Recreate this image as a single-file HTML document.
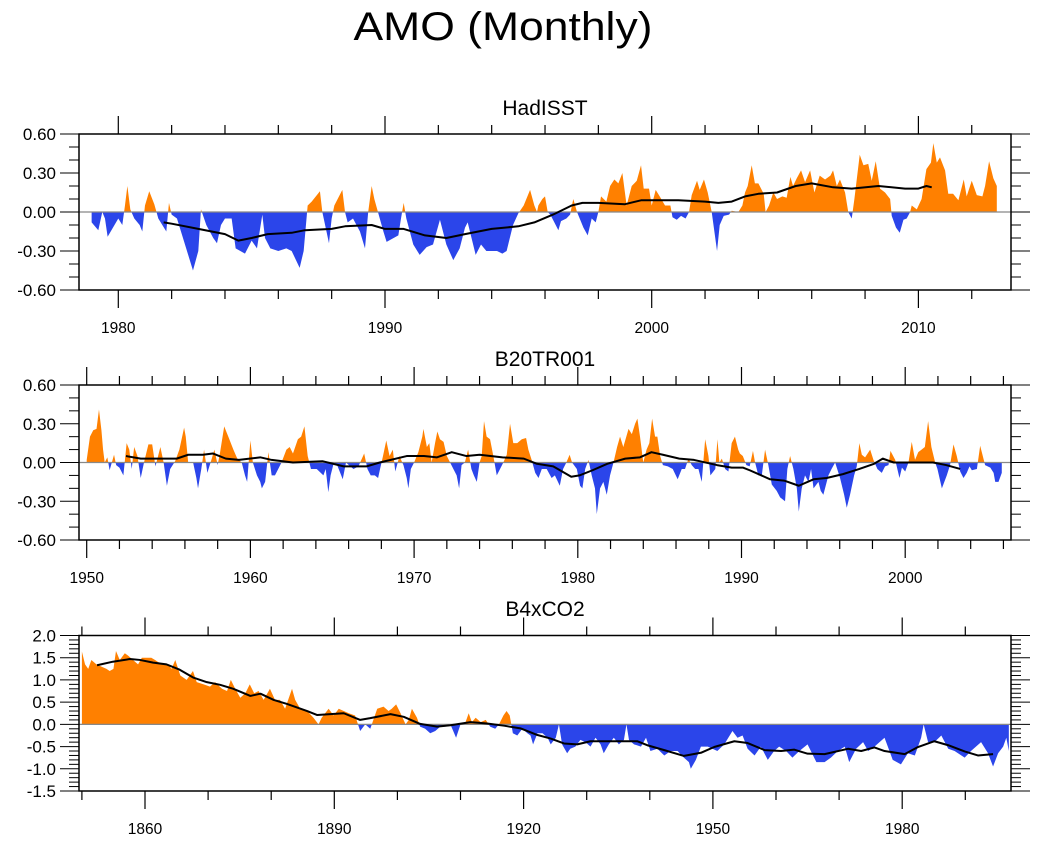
<!DOCTYPE html>
<html><head><meta charset="utf-8"><style>
html,body{margin:0;padding:0;background:#fff;}
svg{display:block;font-family:"Liberation Sans",Arial,sans-serif;}
</style></head>
<body>
<svg id="chart" width="1038" height="844" viewBox="0 0 1038 844" xmlns="http://www.w3.org/2000/svg">
<text x="503" y="40" font-size="40" text-anchor="middle" textLength="299" lengthAdjust="spacingAndGlyphs">AMO (Monthly)</text>
</svg>
<script>
// ---------- HadISST ----------
const hadYears = [1979.0,1979.25,1979.4,1979.5,1979.6,1979.8,1980.0,1980.15,1980.25,1980.34,1980.45,1980.6,1980.8,1980.9,1981.0,1981.16,1981.35,1981.5,1981.8,1981.9,1982.0,1982.2,1982.5,1982.8,1983.0,1983.1,1983.3,1983.56,1983.7,1983.85,1984.0,1984.25,1984.4,1984.75,1985.0,1985.2,1985.4,1985.5,1985.7,1986.0,1986.3,1986.5,1986.8,1986.95,1987.1,1987.25,1987.56,1987.65,1987.9,1988.0,1988.1,1988.4,1988.5,1988.6,1988.8,1989.06,1989.25,1989.37,1989.5,1989.6,1989.94,1990.06,1990.5,1990.6,1990.7,1990.8,1991.06,1991.3,1991.56,1991.8,1992.06,1992.3,1992.56,1992.8,1993.0,1993.1,1993.4,1993.6,1993.8,1994.2,1994.4,1994.56,1994.8,1995.0,1995.2,1995.44,1995.6,1995.7,1995.75,1995.9,1996.0,1996.1,1996.2,1996.4,1996.5,1996.6,1996.8,1996.94,1997.06,1997.2,1997.3,1997.44,1997.6,1997.75,1997.9,1998.0,1998.1,1998.3,1998.44,1998.6,1998.75,1998.9,1999.06,1999.25,1999.44,1999.6,1999.7,1999.9,2000.0,2000.15,2000.3,2000.5,2000.7,2000.78,2000.94,2001.1,2001.27,2001.4,2001.5,2001.7,2001.8,2001.96,2002.1,2002.25,2002.35,2002.45,2002.55,2002.7,2002.9,2003.0,2003.25,2003.4,2003.5,2003.6,2003.75,2003.87,2004.0,2004.2,2004.27,2004.4,2004.56,2004.7,2004.9,2005.06,2005.2,2005.3,2005.44,2005.6,2005.75,2005.94,2006.1,2006.3,2006.5,2006.7,2006.8,2006.94,2007.06,2007.25,2007.37,2007.5,2007.6,2007.8,2007.94,2008.12,2008.25,2008.4,2008.56,2008.75,2008.94,2009.0,2009.16,2009.3,2009.44,2009.56,2009.69,2009.75,2009.94,2010.12,2010.3,2010.47,2010.56,2010.69,2010.81,2011.0,2011.12,2011.3,2011.5,2011.7,2011.81,2012.0,2012.19,2012.4,2012.5,2012.65,2012.81,2012.94];
const hadVals = [-0.08,-0.14,0.0,-0.05,-0.19,-0.12,-0.05,-0.1,0.05,0.2,0.02,-0.05,-0.1,-0.15,0.05,0.16,0.06,-0.05,-0.15,0.07,-0.02,-0.05,-0.25,-0.45,-0.3,0.02,-0.1,-0.2,-0.24,-0.1,-0.05,-0.05,-0.28,-0.32,-0.22,-0.28,-0.02,-0.2,-0.28,-0.3,-0.28,-0.3,-0.43,-0.3,0.05,0.08,0.16,0.0,-0.24,-0.05,0.05,0.17,0.0,-0.08,-0.05,-0.15,-0.28,0.0,0.2,0.1,-0.15,-0.23,-0.18,-0.05,0.07,-0.05,-0.25,-0.33,-0.27,-0.25,-0.06,-0.25,-0.37,-0.28,-0.12,-0.08,-0.33,-0.25,-0.3,-0.3,-0.32,-0.3,-0.1,-0.01,0.05,0.17,0.05,0.0,0.05,0.1,0.12,0.0,-0.02,-0.1,-0.14,-0.07,-0.05,-0.02,0.1,0.0,-0.05,-0.12,-0.18,-0.05,-0.08,0.0,0.12,0.08,0.2,0.25,0.22,0.3,0.05,0.2,0.24,0.36,0.18,0.18,0.05,0.17,0.12,0.05,0.05,-0.04,-0.06,-0.03,-0.05,0.0,0.13,0.24,0.17,0.25,0.15,0.0,-0.15,-0.3,-0.1,-0.03,-0.02,0.01,0.0,0.05,0.15,0.2,0.36,0.22,0.22,0.14,0.0,0.05,0.15,0.1,0.12,0.11,0.27,0.2,0.26,0.32,0.23,0.32,0.15,0.28,0.25,0.28,0.32,0.2,0.25,0.15,0.0,-0.05,0.1,0.44,0.36,0.37,0.24,0.39,0.18,0.15,0.1,-0.03,-0.12,-0.16,-0.06,-0.05,0.0,0.05,0.02,0.1,0.33,0.38,0.53,0.38,0.42,0.32,0.14,0.14,0.09,0.25,0.12,0.24,0.13,0.12,0.2,0.39,0.26,0.2];
const hadSmYears = [1981.7,1982,1983,1984,1984.5,1985,1985.6,1986.5,1987,1988,1988.5,1989.5,1990,1990.7,1991.5,1992.3,1993,1994,1995,1995.6,1996.3,1997,1997.4,1998,1999,1999.6,2000,2001,2002,2002.5,2003,2003.5,2004,2004.7,2005.4,2006,2006.8,2007.5,2008.5,2009.5,2010,2010.3,2010.5];
const hadSmVals = [-0.08,-0.09,-0.13,-0.17,-0.22,-0.2,-0.17,-0.16,-0.14,-0.13,-0.11,-0.1,-0.13,-0.13,-0.18,-0.2,-0.17,-0.13,-0.11,-0.08,-0.02,0.05,0.07,0.07,0.06,0.09,0.09,0.09,0.08,0.07,0.08,0.12,0.14,0.15,0.2,0.22,0.19,0.18,0.2,0.18,0.18,0.2,0.19];

// ---------- B20TR001 ----------
const b20Years = [1950.0,1950.2,1950.4,1950.6,1950.75,1950.9,1951.0,1951.1,1951.26,1951.4,1951.67,1951.8,1952.0,1952.24,1952.44,1952.6,1952.75,1952.9,1953.1,1953.3,1953.5,1953.77,1954.0,1954.2,1954.5,1954.7,1954.9,1955.1,1955.4,1955.66,1955.95,1956.05,1956.2,1956.5,1956.7,1956.8,1957.0,1957.17,1957.37,1957.64,1957.8,1958.0,1958.15,1958.4,1958.65,1958.96,1959.2,1959.47,1959.67,1959.8,1960.0,1960.15,1960.4,1960.6,1960.7,1960.9,1961.1,1961.3,1961.5,1961.7,1961.9,1962.2,1962.4,1962.6,1962.9,1963.1,1963.3,1963.5,1963.7,1964.05,1964.46,1964.6,1964.76,1964.9,1965.1,1965.3,1965.64,1965.84,1966.1,1966.3,1966.6,1966.95,1967.15,1967.35,1967.6,1967.8,1967.92,1968.1,1968.3,1968.5,1968.7,1968.85,1969.0,1969.1,1969.35,1969.55,1969.65,1969.8,1970.0,1970.26,1970.5,1970.57,1970.78,1970.93,1971.07,1971.28,1971.42,1971.58,1971.8,1972.0,1972.2,1972.4,1972.6,1972.75,1972.9,1973.1,1973.3,1973.5,1973.65,1973.83,1974.0,1974.13,1974.27,1974.43,1974.64,1974.84,1975.05,1975.25,1975.45,1975.66,1975.86,1976.06,1976.3,1976.58,1976.84,1976.98,1977.18,1977.4,1977.6,1977.8,1978.1,1978.4,1978.6,1978.9,1979.1,1979.3,1979.5,1979.65,1979.94,1980.14,1980.28,1980.45,1980.65,1980.85,1981.05,1981.16,1981.36,1981.56,1981.77,1981.97,1982.18,1982.4,1982.58,1982.78,1983.1,1983.3,1983.5,1983.64,1983.8,1984.0,1984.2,1984.37,1984.54,1984.72,1984.86,1985.03,1985.2,1985.5,1985.8,1986.1,1986.35,1986.55,1986.76,1986.96,1987.17,1987.37,1987.57,1987.78,1987.98,1988.1,1988.4,1988.53,1988.65,1988.8,1989.0,1989.2,1989.4,1989.6,1989.8,1989.9,1990.08,1990.3,1990.5,1990.7,1990.83,1991.03,1991.24,1991.44,1991.64,1991.85,1992.15,1992.36,1992.66,1992.8,1992.97,1993.17,1993.38,1993.5,1993.68,1993.88,1994.09,1994.25,1994.4,1994.7,1994.84,1995.0,1995.31,1995.5,1995.72,1996.02,1996.27,1996.43,1996.63,1996.88,1997.04,1997.2,1997.35,1997.55,1997.86,1998.06,1998.3,1998.57,1998.77,1998.98,1999.1,1999.39,1999.65,1999.8,2000.0,2000.2,2000.4,2000.6,2000.8,2001.0,2001.2,2001.4,2001.6,2001.83,2001.97,2002.24,2002.54,2002.74,2002.95,2003.15,2003.36,2003.56,2003.76,2003.93,2004.07,2004.38,2004.58,2004.88,2005.2,2005.4,2005.5,2005.7,2005.9];
const b20Vals = [0.02,0.2,0.25,0.26,0.41,0.25,0.1,0.0,0.04,-0.06,0.06,-0.02,-0.04,-0.1,0.15,0.1,-0.05,0.12,0.05,-0.12,0.0,0.14,0.14,-0.03,0.12,0.0,-0.18,-0.05,0.01,0.1,0.27,0.2,0.0,0.0,-0.12,-0.2,-0.05,0.1,-0.08,0.03,0.1,-0.02,0.08,0.28,0.2,0.1,0.03,0.0,-0.1,-0.15,0.17,0.0,-0.1,-0.15,-0.2,-0.15,0.08,-0.1,-0.1,-0.05,0.0,0.1,0.12,0.07,0.18,0.2,0.28,0.05,-0.05,-0.05,-0.1,-0.05,-0.23,-0.1,0.0,-0.02,-0.13,0.0,-0.03,-0.05,-0.03,0.07,-0.05,-0.1,-0.1,-0.12,-0.05,0.05,0.17,0.05,0.1,-0.07,0.0,0.05,-0.02,-0.12,-0.2,-0.05,0.0,0.08,0.2,0.26,0.12,0.15,0.0,0.15,0.24,0.18,0.16,0.05,0.0,-0.05,-0.1,-0.2,-0.02,0.0,0.1,-0.05,-0.1,-0.15,0.0,0.05,0.32,0.2,0.18,0.05,-0.1,-0.05,0.0,0.06,0.3,0.15,0.15,0.18,0.19,0.1,0.02,-0.08,-0.12,-0.05,-0.05,-0.12,-0.1,-0.18,-0.05,0.0,0.06,0.0,-0.05,-0.18,-0.2,-0.05,0.02,-0.1,-0.2,-0.4,-0.2,-0.15,-0.25,-0.1,0.0,0.12,0.2,0.12,0.26,0.22,0.3,0.34,0.2,0.0,0.1,0.15,0.34,0.2,0.2,0.05,-0.02,-0.03,-0.05,-0.13,-0.05,-0.05,0.03,-0.02,-0.05,-0.05,-0.15,0.18,0.05,-0.1,-0.05,0.18,0.0,0.03,-0.05,-0.07,0.15,0.2,0.1,0.07,0.05,-0.02,-0.03,0.09,0.0,-0.1,-0.1,0.1,-0.02,-0.17,-0.22,-0.27,-0.3,-0.05,0.05,-0.05,-0.2,-0.38,-0.2,-0.1,-0.15,-0.05,-0.2,-0.15,-0.22,-0.25,-0.1,-0.05,0.0,-0.12,-0.25,-0.35,-0.25,-0.1,-0.03,0.15,0.06,0.04,0.1,0.02,-0.05,-0.08,-0.03,-0.02,0.09,0.02,-0.12,-0.04,-0.07,0.0,0.16,0.02,0.08,0.1,0.12,0.32,0.12,0.0,-0.05,-0.2,-0.1,-0.02,0.14,0.05,-0.07,-0.12,-0.08,-0.03,-0.06,-0.05,0.13,-0.02,-0.04,-0.08,-0.15,-0.15,-0.08,-0.05,0.04,-0.03,-0.03];
const b20SmYears = [1952.4,1953.3,1954.5,1955.5,1956.2,1957.1,1957.7,1958.5,1959.3,1960.6,1961.3,1962.6,1964.4,1965.7,1967.1,1967.9,1969.55,1970.6,1971.4,1972.3,1973.2,1974.0,1975.4,1976.7,1977.5,1978.5,1979.6,1980.1,1980.9,1981.8,1982.9,1983.8,1984.5,1985.2,1986.2,1987.1,1988.5,1989.4,1990.1,1990.5,1991.75,1992.6,1993.5,1994.4,1995.2,1996.2,1997.2,1998.1,1998.63,1999.3,2000.7,2001.7,2002.5,2003.36];
const b20SmVals = [0.05,0.03,0.03,0.03,0.06,0.06,0.07,0.03,0.02,0.04,0.02,0.0,0.01,-0.03,-0.03,0.0,0.05,0.05,0.04,0.08,0.05,0.06,0.04,0.03,-0.01,-0.03,-0.11,-0.1,-0.06,-0.01,0.03,0.04,0.08,0.06,0.03,0.02,-0.02,-0.04,-0.04,-0.06,-0.13,-0.14,-0.18,-0.13,-0.12,-0.09,-0.05,-0.01,0.03,0.0,0.0,0.0,-0.02,-0.05];

// ---------- B4xCO2 ----------
const b4Years = [1850,1850.5,1851,1851.5,1852.3,1853.1,1853.9,1854.4,1855,1855.4,1856,1856.8,1857.3,1858.1,1858.9,1859.5,1860.3,1861,1861.6,1862.1,1862.9,1863.7,1864.2,1864.8,1865.6,1866.6,1867.6,1868.2,1869.3,1870.3,1871.1,1872.2,1873,1873.6,1874.3,1875.1,1875.9,1876.6,1877.3,1878,1878.8,1879.8,1880.6,1881.4,1882.2,1883.3,1883.8,1884.6,1885.7,1886.7,1887.5,1888,1889.1,1889.9,1890.7,1891.5,1892.3,1893.3,1894.1,1894.9,1895.7,1896.8,1897.8,1898.6,1899.1,1899.8,1900.5,1901.3,1901.8,1902.3,1903.1,1903.6,1904.4,1905.2,1906,1906.8,1907.6,1908.4,1909.3,1910,1910.8,1911.3,1911.8,1912.4,1913.2,1914,1914.7,1915.5,1916.1,1916.8,1917.3,1917.8,1918.3,1919,1919.8,1920.6,1921.1,1921.5,1922.2,1923,1923.8,1924.3,1925.1,1925.6,1926.1,1926.9,1927.4,1928.2,1929,1929.8,1930.6,1931.4,1932.2,1932.7,1933.5,1934.3,1935.1,1935.9,1936.3,1936.7,1937.5,1938.6,1939.4,1940.1,1941.2,1942.3,1943.3,1944.4,1945.4,1946.2,1946.5,1947.3,1948.1,1949.2,1950.7,1951.8,1953.1,1953.9,1954.7,1955.5,1956.6,1957.6,1958.7,1959.7,1960.5,1961.6,1962.6,1963.7,1965,1966.4,1967.7,1968.7,1969.8,1970.9,1971.6,1972.7,1973.8,1974.6,1975.6,1977.2,1978.5,1979.8,1980.9,1982,1983,1983.4,1984.1,1985.1,1986.2,1987.3,1988.3,1989.9,1990.9,1992.5,1993.6,1994.4,1995.2,1996,1996.5,1996.9];
const b4Vals = [1.64,1.35,1.25,1.45,1.35,1.3,1.25,1.2,1.25,1.65,1.45,1.6,1.55,1.45,1.35,1.5,1.5,1.5,1.45,1.4,1.35,1.35,1.25,1.45,1.1,1.0,1.2,0.95,0.9,0.85,0.95,0.8,0.75,1.0,0.8,0.6,0.7,0.9,0.7,0.75,0.55,0.8,0.55,0.55,0.35,0.8,0.55,0.35,0.3,0.15,0.0,0.15,0.35,0.2,0.35,0.3,0.25,0.2,-0.15,0.0,-0.1,0.35,0.4,0.3,0.35,0.45,0.25,0.0,0.1,0.35,0.15,-0.05,-0.1,-0.2,-0.15,-0.05,-0.05,0.0,-0.3,0.0,0.05,0.25,0.05,0.15,0.05,0.1,-0.05,-0.1,0.0,0.2,0.3,0.2,-0.2,-0.25,-0.1,-0.2,-0.25,-0.45,-0.2,-0.2,-0.3,-0.45,-0.3,0.0,-0.45,-0.65,-0.55,-0.5,-0.35,-0.4,-0.5,-0.3,-0.45,-0.65,-0.45,-0.3,-0.45,-0.35,0.0,-0.35,-0.45,-0.5,-0.3,-0.6,-0.55,-0.7,-0.6,-0.6,-0.75,-0.85,-1.0,-0.8,-0.5,-0.5,-0.6,-0.45,-0.15,-0.3,-0.25,-0.55,-0.7,-0.5,-0.8,-0.6,-0.5,-0.6,-0.75,-0.6,-0.45,-0.85,-0.85,-0.75,-0.6,-0.5,-0.85,-0.55,-0.4,-0.6,-0.5,-0.3,-0.8,-0.9,-0.65,-0.7,-0.3,0.0,-0.4,-0.4,-0.25,-0.55,-0.6,-0.75,-0.6,-0.4,-0.65,-0.95,-0.65,-0.5,-0.3,-0.6];
const b4SmYears = [1852.4,1854.9,1857.6,1859.2,1861.3,1863.4,1865.5,1867.7,1869.8,1871.9,1874,1876.7,1878.3,1880.4,1882.5,1885.7,1887.3,1889.4,1891.5,1894.1,1895.7,1898.9,1901,1903.6,1906.3,1908.4,1911.6,1914.2,1916.9,1919.5,1922.2,1924.3,1926.4,1928.5,1930.6,1932.7,1935.4,1938,1939.6,1942.3,1945.4,1948.1,1950.2,1953.4,1955.5,1958.2,1960.8,1962.9,1965,1967.7,1971.4,1973.5,1975.6,1977.2,1980.4,1982.5,1985.1,1987.3,1989.9,1992,1994.4];
const b4SmVals = [1.33,1.41,1.47,1.45,1.39,1.35,1.23,1.05,0.95,0.89,0.8,0.64,0.69,0.55,0.46,0.3,0.21,0.23,0.25,0.1,0.14,0.23,0.17,0.01,-0.05,-0.02,0.05,0.02,-0.03,-0.09,-0.24,-0.32,-0.43,-0.45,-0.38,-0.38,-0.38,-0.38,-0.47,-0.58,-0.71,-0.64,-0.51,-0.38,-0.42,-0.58,-0.6,-0.57,-0.66,-0.67,-0.55,-0.6,-0.52,-0.6,-0.67,-0.51,-0.38,-0.47,-0.61,-0.7,-0.67];

// ---------- tick labels ----------
const hadXTicks = [1980,1990,2000,2010];
const b20XTicks = [1950,1960,1970,1980,1990,2000];
const b4XTicks = [1860,1890,1920,1950,1980];
const yTicks12 = [-0.6,-0.3,0.0,0.3,0.6];
const yTicks3 = [-1.5,-1.0,-0.5,0.0,0.5,1.0,1.5,2.0];

const NS = "http://www.w3.org/2000/svg";
const svg = document.getElementById('chart');
function mk(tag, attrs, parent){
  const e = document.createElementNS(NS, tag);
  for (const k in attrs) e.setAttribute(k, attrs[k]);
  (parent||svg).appendChild(e);
  return e;
}

const panels = [
  {name:'hadisst', title:'HadISST', titleY:115, left:79, right:1011, top:134, bottom:290,
   ymin:-0.6, ymax:0.6, x0:1980, px0:118.3, pxPerYr:26.67, years:hadYears, vals:hadVals,
   smY:hadSmYears, smV:hadSmVals, xt:hadXTicks, minorStep:2, yt:yTicks12, yMinor:0.1, dec:2, xMin:1978, xMax:2014},
  {name:'b20tr001', title:'B20TR001', titleY:366, left:79, right:1011, top:385, bottom:540,
   ymin:-0.6, ymax:0.6, x0:1950, px0:86.7, pxPerYr:16.37, years:b20Years, vals:b20Vals,
   smY:b20SmYears, smV:b20SmVals, xt:b20XTicks, minorStep:2, yt:yTicks12, yMinor:0.1, dec:2, xMin:1949, xMax:2007},
  {name:'b4xco2', title:'B4xCO2', titleY:616, left:79, right:1011, top:635.5, bottom:791,
   ymin:-1.5, ymax:2.0, x0:1860, px0:145, pxPerYr:6.31, years:b4Years, vals:b4Vals,
   smY:b4SmYears, smV:b4SmVals, xt:b4XTicks, minorStep:10, yt:yTicks3, yMinor:0.1, dec:1, xMin:1840, xMax:2000}
];

panels.forEach((p, idx) => {
  const g = mk('g', {});
  
  
  const X = yr => p.px0 + (yr - p.x0) * p.pxPerYr;
  const Y = v => p.bottom - (v - p.ymin) / (p.ymax - p.ymin) * (p.bottom - p.top);
  const zy = Y(0);

  const t = mk('text', {x:545, y:p.titleY, 'font-size':21, 'text-anchor':'middle'}, g);
  
  
  t.textContent = p.title;

  const cid = 'clip' + idx;
  const defs = mk('defs', {}, g);
  const cu = mk('clipPath', {id: cid + 'u'}, defs);
  mk('rect', {x:p.left, y:p.top, width:p.right - p.left, height:zy - p.top}, cu);
  const cd = mk('clipPath', {id: cid + 'd'}, defs);
  mk('rect', {x:p.left, y:zy, width:p.right - p.left, height:p.bottom - zy}, cd);

  let pts = X(p.years[0]).toFixed(2) + ',' + zy.toFixed(2) + ' ';
  for (let i = 0; i < p.years.length; i++) pts += X(p.years[i]).toFixed(2) + ',' + Y(p.vals[i]).toFixed(2) + ' ';
  pts += X(p.years[p.years.length - 1]).toFixed(2) + ',' + zy.toFixed(2);
  const pos = mk('polygon', {points:pts, fill:'#ff8000', 'clip-path':'url(#' + cid + 'u)'}, g);
  
  
  const neg = mk('polygon', {points:pts, fill:'#2b45ea', 'clip-path':'url(#' + cid + 'd)'}, g);
  
  

  const zl = mk('line', {x1:p.left, x2:p.right, y1:zy, y2:zy, stroke:'#888', 'stroke-width':1.2}, g);
  
  

  let sp = '';
  for (let i = 0; i < p.smY.length; i++) sp += X(p.smY[i]).toFixed(2) + ',' + Y(p.smV[i]).toFixed(2) + ' ';
  const sl = mk('polyline', {points:sp, fill:'none', stroke:'#000', 'stroke-width':2, 'stroke-linejoin':'round'}, g);
  
  

  const fr = mk('rect', {x:p.left, y:p.top, width:p.right - p.left, height:p.bottom - p.top, fill:'none', stroke:'#000', 'stroke-width':1.5}, g);
  
  

  for (let yr = Math.ceil(p.xMin); yr <= p.xMax; yr++) {
    const x = X(yr);
    if (x < p.left - 0.5 || x > p.right + 0.5) continue;
    const major = p.xt.includes(yr);
    if (!major && yr % p.minorStep !== 0) continue;
    const len = major ? 18 : 9;
    mk('line', {x1:x, x2:x, y1:p.top, y2:p.top - len, stroke:'#000', 'stroke-width':1.2}, g);
    mk('line', {x1:x, x2:x, y1:p.bottom, y2:p.bottom + len, stroke:'#000', 'stroke-width':1.2}, g);
  }
  p.xt.forEach(yr => {
    const lt = mk('text', {x:X(yr), y:p.bottom + 43, 'font-size':15.5, 'text-anchor':'middle'}, g);
    
    
    lt.textContent = String(yr);
  });
  const nMinor = Math.round((p.ymax - p.ymin) / p.yMinor);
  for (let i = 0; i <= nMinor; i++) {
    const v = p.ymin + i * p.yMinor;
    const y = Y(v);
    const major = p.yt.some(tv => Math.abs(tv - v) < 1e-6);
    const len = major ? 19 : 10;
    mk('line', {x1:p.left, x2:p.left - len, y1:y, y2:y, stroke:'#000', 'stroke-width':1}, g);
    mk('line', {x1:p.right, x2:p.right + len, y1:y, y2:y, stroke:'#000', 'stroke-width':1}, g);
  }
  p.yt.forEach(v => {
    const lt = mk('text', {x:56, y:Y(v) + 6, 'font-size':17, 'text-anchor':'end'}, g);
    
    
    lt.textContent = v.toFixed(p.dec);
  });
});
</script>
</body></html>
